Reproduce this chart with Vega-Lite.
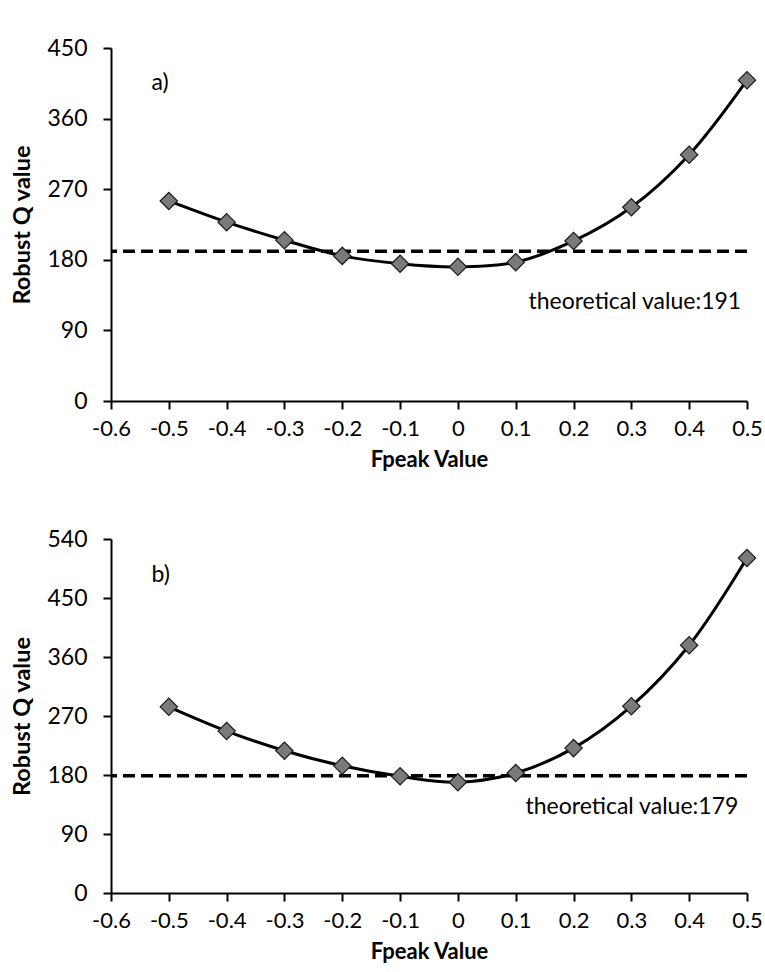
{
  "$schema": "https://vega.github.io/schema/vega-lite/v6.json",
  "background": "white",
  "padding": {"left": 10, "top": 37, "right": 10, "bottom": 4},
  "spacing": 58,
  "config": {
    "view": {"stroke": null},
    "font": "Lato",
    "axis": {
      "grid": false,
      "domainColor": "black",
      "domainWidth": 2,
      "tickColor": "black",
      "tickWidth": 2,
      "tickSize": 8,
      "labelColor": "black",
      "labelFont": "Lato",
      "labelFontSize": 23,
      "labelOverlap": false,
      "labelBound": false,
      "labelFlush": false,
      "titleColor": "black",
      "titleFont": "Lato",
      "titleFontSize": 22,
      "titleFontWeight": "bold"
    }
  },
  "datasets": {
    "a": [
      {"fpeak": -0.5, "q": 255},
      {"fpeak": -0.4, "q": 228},
      {"fpeak": -0.3, "q": 205},
      {"fpeak": -0.2, "q": 185},
      {"fpeak": -0.1, "q": 175},
      {"fpeak": 0.0, "q": 171},
      {"fpeak": 0.1, "q": 177},
      {"fpeak": 0.2, "q": 204},
      {"fpeak": 0.3, "q": 247},
      {"fpeak": 0.4, "q": 314},
      {"fpeak": 0.5, "q": 409}
    ],
    "b": [
      {"fpeak": -0.5, "q": 284},
      {"fpeak": -0.4, "q": 247},
      {"fpeak": -0.3, "q": 217},
      {"fpeak": -0.2, "q": 194},
      {"fpeak": -0.1, "q": 178},
      {"fpeak": 0.0, "q": 169},
      {"fpeak": 0.1, "q": 183},
      {"fpeak": 0.2, "q": 221},
      {"fpeak": 0.3, "q": 285},
      {"fpeak": 0.4, "q": 378},
      {"fpeak": 0.5, "q": 511}
    ]
  },
  "vconcat": [
    {
      "width": 636,
      "height": 353,
      "layer": [
        {
          "data": {"values": [{"ref": 191}]},
          "mark": {"type": "rule", "color": "black", "strokeWidth": 3.5, "strokeDash": [12, 6]},
          "encoding": {"y": {"field": "ref", "type": "quantitative"}}
        },
        {
          "data": {"name": "a"},
          "mark": {"type": "line", "interpolate": "catmull-rom", "color": "black", "strokeWidth": 3},
          "encoding": {
            "x": {"field": "fpeak", "type": "quantitative", "scale": {"domain": [-0.6, 0.5], "nice": false}, "axis": {"values": [-0.6, -0.5, -0.4, -0.3, -0.2, -0.1, 0, 0.1, 0.2, 0.3, 0.4, 0.5], "title": "Fpeak Value", "labelFontSize": 22, "labelPadding": 9, "titlePadding": 10, "labelExpr": "'' + datum.value"}},
            "y": {"field": "q", "type": "quantitative", "scale": {"domain": [0, 450], "nice": false}, "axis": {"values": [0, 90, 180, 270, 360, 450], "title": "Robust Q value", "titleFontSize": 23.5, "labelPadding": 16, "titlePadding": 12}}
          }
        },
        {
          "data": {"name": "a"},
          "mark": {"type": "point", "shape": "diamond", "size": 300, "filled": true, "fill": "#7a7a7a", "stroke": "#1a1a1a", "strokeWidth": 1.2, "opacity": 1},
          "encoding": {
            "x": {"field": "fpeak", "type": "quantitative"},
            "y": {"field": "q", "type": "quantitative"}
          }
        },
        {
          "data": {"values": [{"label": "a)", "fx": -0.53, "fy": 405}]},
          "mark": {"type": "text", "align": "left", "baseline": "middle", "fontSize": 23, "font": "Lato", "color": "black"},
          "encoding": {
            "x": {"field": "fx", "type": "quantitative"},
            "y": {"field": "fy", "type": "quantitative"},
            "text": {"field": "label"}
          }
        },
        {
          "data": {"values": [{"label": "theoretical value:191", "fx": 0.49, "fy": 126}]},
          "mark": {"type": "text", "align": "right", "baseline": "middle", "fontSize": 23, "font": "Lato", "color": "black"},
          "encoding": {
            "x": {"field": "fx", "type": "quantitative"},
            "y": {"field": "fy", "type": "quantitative"},
            "text": {"field": "label"}
          }
        }
      ]
    },
    {
      "width": 636,
      "height": 354,
      "layer": [
        {
          "data": {"values": [{"ref": 179}]},
          "mark": {"type": "rule", "color": "black", "strokeWidth": 3.5, "strokeDash": [12, 6]},
          "encoding": {"y": {"field": "ref", "type": "quantitative"}}
        },
        {
          "data": {"name": "b"},
          "mark": {"type": "line", "interpolate": "catmull-rom", "color": "black", "strokeWidth": 3},
          "encoding": {
            "x": {"field": "fpeak", "type": "quantitative", "scale": {"domain": [-0.6, 0.5], "nice": false}, "axis": {"values": [-0.6, -0.5, -0.4, -0.3, -0.2, -0.1, 0, 0.1, 0.2, 0.3, 0.4, 0.5], "title": "Fpeak Value", "labelFontSize": 22, "labelPadding": 9, "titlePadding": 10, "labelExpr": "'' + datum.value"}},
            "y": {"field": "q", "type": "quantitative", "scale": {"domain": [0, 540], "nice": false}, "axis": {"values": [0, 90, 180, 270, 360, 450, 540], "title": "Robust Q value", "titleFontSize": 23.5, "labelPadding": 16, "titlePadding": 12}}
          }
        },
        {
          "data": {"name": "b"},
          "mark": {"type": "point", "shape": "diamond", "size": 300, "filled": true, "fill": "#7a7a7a", "stroke": "#1a1a1a", "strokeWidth": 1.2, "opacity": 1},
          "encoding": {
            "x": {"field": "fpeak", "type": "quantitative"},
            "y": {"field": "q", "type": "quantitative"}
          }
        },
        {
          "data": {"values": [{"label": "b)", "fx": -0.53, "fy": 485}]},
          "mark": {"type": "text", "align": "left", "baseline": "middle", "fontSize": 23, "font": "Lato", "color": "black"},
          "encoding": {
            "x": {"field": "fx", "type": "quantitative"},
            "y": {"field": "fy", "type": "quantitative"},
            "text": {"field": "label"}
          }
        },
        {
          "data": {"values": [{"label": "theoretical value:179", "fx": 0.485, "fy": 131}]},
          "mark": {"type": "text", "align": "right", "baseline": "middle", "fontSize": 23, "font": "Lato", "color": "black"},
          "encoding": {
            "x": {"field": "fx", "type": "quantitative"},
            "y": {"field": "fy", "type": "quantitative"},
            "text": {"field": "label"}
          }
        }
      ]
    }
  ]
}
